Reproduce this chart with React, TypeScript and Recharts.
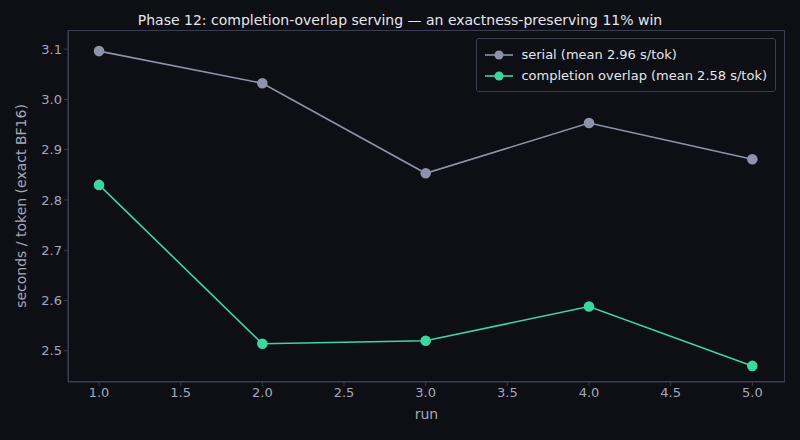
import { LineChart, Line, XAxis, YAxis } from 'recharts';

const runs = [1, 2, 3, 4, 5];
const serial = [3.096, 3.032, 2.853, 2.953, 2.881];
const overlap = [2.83, 2.514, 2.52, 2.588, 2.47];
const xTicks = [1, 1.5, 2, 2.5, 3, 3.5, 4, 4.5, 5];
const yTicks = [2.5, 2.6, 2.7, 2.8, 2.9, 3.0, 3.1];

const SERIAL_COLOR = '#8e93ab';
const OVERLAP_COLOR = '#3ed6a0';
const AXIS = '#3a3e50';
const TEXT = '#a4a8ba';

const series = [
  { key: 'serial', name: 'serial (mean 2.96 s/tok)', color: SERIAL_COLOR },
  { key: 'overlap', name: 'completion overlap (mean 2.58 s/tok)', color: OVERLAP_COLOR },
];

const data = runs.map((r, i) => ({ run: r, serial: serial[i], overlap: overlap[i] }));

export default function App() {
  document.body.style.margin = '0';
  return (
    <div style={{ width: 800, height: 440, background: '#0d0f14', position: 'relative', fontFamily: 'DejaVu Sans' }}>
      <div style={{ position: 'absolute', top: 12, width: 800, textAlign: 'center', color: '#e4e6ee', fontSize: 14 }}>
        Phase 12: completion-overlap serving — an exactness-preserving 11% win
      </div>
      <div style={{ position: 'absolute', left: 68, top: 30, width: 717, height: 352, border: `1px solid ${AXIS}`, boxSizing: 'border-box', pointerEvents: 'none' }} />
      <div style={{ position: 'absolute', top: 38, right: 24, background: '#0d0f14', border: `1px solid ${AXIS}`, borderRadius: 3, padding: '5px 8px', color: '#e4e6ee', fontSize: 13, zIndex: 2 }}>
        {series.map((s) => (
          <div key={s.key} style={{ display: 'flex', alignItems: 'center', height: 21 }}>
            <svg width={28} height={12} style={{ marginRight: 8 }}>
              <line x1={0} y1={6} x2={28} y2={6} stroke={s.color} strokeWidth={1.6} />
              <circle cx={14} cy={6} r={4.5} fill={s.color} />
            </svg>
            {s.name}
          </div>
        ))}
      </div>
      <LineChart width={800} height={440} data={data} margin={{ top: 30, right: 15, left: 18, bottom: 13 }}>
        <XAxis dataKey="run" type="number" domain={[0.81, 5.2]} ticks={xTicks} tickFormatter={(v) => v.toFixed(1)}
          stroke={AXIS} tick={{ fill: TEXT, fontSize: 13 }} tickSize={4} height={45}
          label={{ value: 'run', position: 'insideBottom', offset: 8, fill: TEXT, fontSize: 14 }} />
        <YAxis type="number" domain={[2.438, 3.138]} ticks={yTicks} tickFormatter={(v) => v.toFixed(1)}
          stroke={AXIS} tick={{ fill: TEXT, fontSize: 13 }} tickSize={4} width={50}
          label={{ value: 'seconds / token (exact BF16)', angle: -90, position: 'insideLeft', dx: -2, fill: TEXT, fontSize: 14, style: { textAnchor: 'middle' } }} />
        {series.map((s) => (
          <Line key={s.key} dataKey={s.key} name={s.name} stroke={s.color} strokeWidth={1.6}
            dot={{ r: 4.5, fill: s.color, stroke: s.color }} isAnimationActive={false} />
        ))}
      </LineChart>
    </div>
  );
}
